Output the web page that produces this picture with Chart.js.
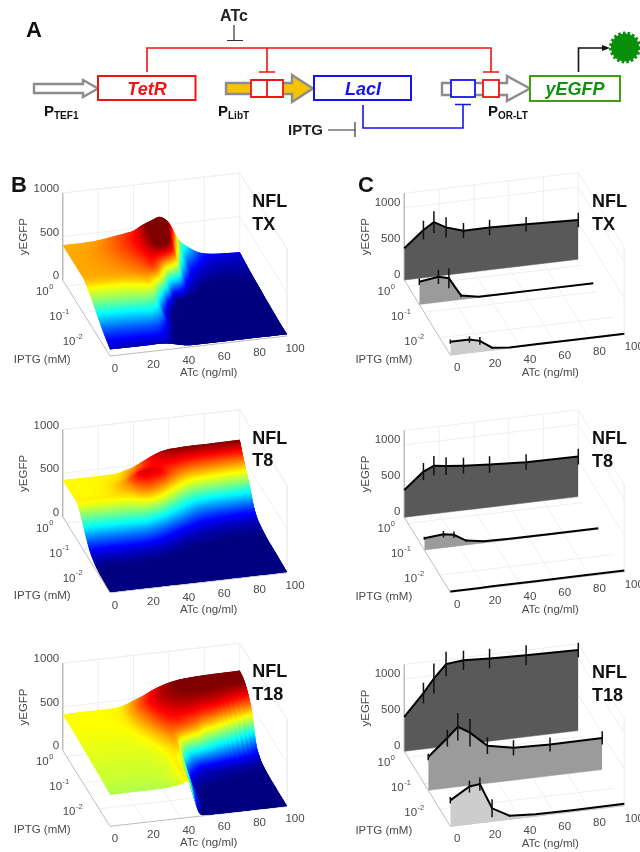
<!DOCTYPE html>
<html>
<head>
<meta charset="utf-8">
<title>NFL dose response</title>
<script src="https://cdn.jsdelivr.net/npm/chart.js@4"></script>
<style>
  html, body { margin: 0; background: #fff; }
  #page { position: relative; width: 640px; height: 852px; overflow: hidden; filter: blur(0.6px); }
  #page canvas { position: absolute; }
  #scheme { position: absolute; left: 0; top: 0; }
  #scheme text { font-family: "Liberation Sans", Arial, sans-serif; }
</style>
</head>
<body>
<div id="page">
  <canvas id="b1" width="320" height="235" style="left:0;top:165px"></canvas>
  <canvas id="c1" width="320" height="235" style="left:320px;top:165px"></canvas>
  <canvas id="b2" width="320" height="227" style="left:0;top:400px"></canvas>
  <canvas id="c2" width="320" height="227" style="left:320px;top:400px"></canvas>
  <canvas id="b3" width="320" height="225" style="left:0;top:627px"></canvas>
  <canvas id="c3" width="320" height="225" style="left:320px;top:627px"></canvas>

  <!-- panel A, the circuit drawing -->
  <svg id="scheme" width="640" height="852" fill="none">
    <text x="26" y="37" font-size="22" font-weight="bold" fill="#111">A</text>
    <text x="11" y="192" font-size="22" font-weight="bold" fill="#111">B</text>
    <text x="358" y="192" font-size="22" font-weight="bold" fill="#111">C</text>

    <text x="234" y="21" font-size="16" font-weight="bold" fill="#222" text-anchor="middle">ATc</text>
    <path d="M234 25V40M227 40.5H243" stroke="#333" stroke-width="1.2"/>
    <path d="M147 72V48H491V72M267 48V72M259 72H275M483 72H499" stroke="#f01414" stroke-width="1.6"/>

    <path d="M34 84H83V80L98 88.5L83 97V93H34Z" fill="#fff" stroke="#8c8c8c" stroke-width="2.4"/>
    <rect x="98" y="76" width="97.5" height="24" fill="#fff" stroke="#f01414" stroke-width="2"/>
    <text x="147" y="95" font-size="18" font-weight="bold" font-style="italic" fill="#f01414" text-anchor="middle">TetR</text>

    <path d="M226 83H292V75L313 88.5L292 102V94H226Z" fill="#f5c400" stroke="#8c8c8c" stroke-width="2.4"/>
    <path d="M251 80H283V97H251ZM267 80V97" fill="#fff" stroke="#f01414" stroke-width="1.8"/>
    <rect x="314" y="76" width="97" height="24" fill="#fff" stroke="#1414f0" stroke-width="2"/>
    <text x="363" y="95" font-size="18" font-weight="bold" font-style="italic" fill="#1414f0" text-anchor="middle">LacI</text>

    <path d="M442 83H507V76L530 88.5L507 101V95H442Z" fill="#fff" stroke="#8c8c8c" stroke-width="2.4"/>
    <rect x="451" y="80" width="24" height="17" fill="#fff" stroke="#1414f0" stroke-width="1.8"/>
    <rect x="483" y="80" width="16" height="17" fill="#fff" stroke="#f01414" stroke-width="1.8"/>
    <rect x="530" y="76" width="90" height="25" fill="#fff" stroke="#3f9e12" stroke-width="2"/>
    <text x="575" y="95" font-size="18" font-weight="bold" font-style="italic" fill="#129012" text-anchor="middle">yEGFP</text>

    <path d="M363 105V128H463V105M455 104.500H471" stroke="#1414f0" stroke-width="1.6"/>
    <text x="288" y="135" font-size="15" font-weight="bold" fill="#222">IPTG</text>
    <path d="M328 130H355M355 122V137" stroke="#333" stroke-width="1.2"/>

    <path d="M578.500 72V48H603" stroke="#111" stroke-width="1.6"/>
    <path d="M602 45L610 48L602 51Z" fill="#111"/>
    <circle cx="625" cy="47.500" r="14" fill="#0a8f0a"/>
    <circle cx="625" cy="47.500" r="14.500" stroke="#0a8f0a" stroke-width="3" stroke-dasharray="2.500 2.200"/>

    <g font-weight="bold" fill="#111">
      <text x="44" y="116" font-size="15">P<tspan font-size="10" dy="3">TEF1</tspan></text>
      <text x="218" y="116" font-size="15">P<tspan font-size="10" dy="3">LibT</tspan></text>
      <text x="488" y="116" font-size="15">P<tspan font-size="10" dy="3">OR-LT</tspan></text>
    </g>
  </svg>
</div>

<script>
// axis ticks
const atcTicks = [0, 20, 40, 60, 80, 100];
const yTicks = [0, 500, 1000];
const iptgTicks = ['0', '-1', '-2'];
const iptgTickDepth = [0.08, 0.43, 0.77];

// surface grids (panel B). rows run back to front
const surfAtc = [0, 10, 20, 30, 35, 40, 45, 50, 55, 60, 65, 70, 80, 100];

const txDepth = [0, 0.15, 0.3, 0.45, 0.55, 0.65, 0.75, 0.85, 1];
const txSurf = [
  [400, 400, 410, 440, 455, 475, 530, 570, 600, 520, 330, 230, 120, 90],
  [400, 405, 420, 450, 470, 500, 540, 575, 560, 380, 190, 120, 75, 70],
  [400, 405, 415, 440, 460, 490, 530, 530, 420, 170, 90, 60, 50, 55],
  [395, 395, 400, 415, 430, 440, 320, 120, 60, 40, 40, 40, 40, 45],
  [345, 345, 350, 365, 370, 270, 100, 45, 30, 30, 30, 30, 30, 35],
  [285, 290, 295, 300, 270, 120, 50, 30, 25, 25, 25, 25, 25, 30],
  [215, 215, 220, 225, 190, 80, 35, 25, 20, 20, 20, 20, 20, 25],
  [150, 150, 155, 150, 110, 50, 25, 20, 20, 20, 20, 20, 20, 20],
  [75, 75, 75, 75, 60, 35, 20, 20, 20, 20, 20, 20, 20, 20]
];

const t8Depth = [0, 0.1, 0.2, 0.3, 0.37, 0.43, 0.5, 0.6, 0.75, 1];
const t8Surf = [
  [420, 420, 420, 425, 450, 480, 530, 580, 620, 640, 645, 650, 650, 655],
  [420, 420, 425, 450, 490, 530, 560, 570, 570, 560, 540, 520, 500, 480],
  [420, 420, 430, 480, 540, 590, 590, 570, 510, 450, 400, 370, 350, 330],
  [420, 420, 425, 440, 480, 500, 480, 420, 350, 280, 230, 190, 170, 150],
  [355, 355, 360, 370, 390, 390, 350, 280, 220, 170, 130, 110, 95, 80],
  [280, 280, 285, 290, 300, 260, 220, 170, 130, 100, 80, 70, 60, 55],
  [180, 180, 180, 180, 170, 150, 120, 90, 70, 60, 50, 45, 40, 40],
  [80, 80, 80, 75, 70, 60, 50, 40, 35, 30, 30, 25, 25, 25],
  [25, 25, 25, 25, 25, 22, 22, 20, 20, 20, 20, 20, 20, 20],
  [8, 8, 8, 8, 8, 8, 8, 8, 8, 8, 8, 8, 8, 8]
];

const t18Depth = [0, 0.12, 0.25, 0.35, 0.43, 0.5, 0.6, 0.75, 0.9, 1];
const t18Surf = [
  [414, 414, 414, 418, 440, 480, 520, 570, 610, 640, 660, 670, 680, 686],
  [414, 414, 414, 425, 460, 510, 560, 600, 625, 640, 650, 655, 655, 640],
  [410, 410, 410, 420, 450, 490, 540, 580, 600, 610, 610, 600, 580, 460],
  [405, 405, 405, 410, 430, 465, 510, 550, 560, 550, 530, 490, 400, 150],
  [400, 400, 400, 405, 415, 440, 480, 510, 500, 460, 400, 300, 180, 60],
  [398, 398, 398, 398, 405, 425, 455, 470, 330, 180, 110, 85, 60, 30],
  [392, 392, 392, 394, 398, 410, 430, 420, 130, 60, 40, 35, 25, 15],
  [385, 385, 385, 386, 390, 398, 420, 300, 50, 20, 15, 12, 10, 8],
  [375, 375, 375, 378, 384, 398, 410, 150, 20, 8, 5, 5, 5, 5],
  [365, 365, 365, 368, 376, 388, 395, 50, 8, 5, 3, 3, 3, 3]
];

// measured doses (panel C)
const doses = [0, 11, 17, 24, 34, 49, 70, 100];

const txHigh = [438, 659, 751, 659, 585, 585, 571, 544];
const txHighErr = [0, 130, 150, 140, 105, 108, 100, 100];
const txMid = [313, 350, 313, 55, 10, 8, 8, 8];
const txMidErr = [45, 97, 138, 25, 0, 0, 0, 0];
const txLow = [184, 184, 147, 32, 8, 8, 8, 8];
const txLowErr = [30, 45, 55, 10, 0, 0, 0, 0];

const t8High = [378, 600, 664, 640, 617, 590, 562, 553];
const t8HighErr = [0, 118, 134, 122, 110, 115, 108, 108];
const t8Mid = [161, 184, 161, 60, 23, 15, 12, 12];
const t8MidErr = [20, 45, 45, 20, 0, 0, 0, 0];
const t8Low = [12, 12, 12, 14, 14, 14, 14, 14];
const t8LowErr = [0, 0, 0, 0, 0, 0, 0, 0];

const t18High = [475, 774, 958, 1138, 1161, 1143, 1129, 1115];
const t18HighErr = [0, 143, 207, 170, 134, 134, 138, 100];
const t18Mid = [461, 691, 829, 728, 520, 447, 433, 438];
const t18MidErr = [45, 115, 190, 190, 115, 106, 97, 92];
const t18Low = [359, 520, 535, 180, 50, 25, 20, 25];
const t18LowErr = [45, 83, 92, 124, 14, 0, 0, 0];

const FONT = '"Liberation Sans", Arial, sans-serif';
const GAP = { x: NaN, y: NaN };

// oblique view of the box, page pixels per unit
const viewB = { ox: 62.7, ax: 177, ay: -20, dx: 47.3, dy: 76, hz: 87, zMax: 1000, tickDx: -3.5, tickDy: -4, atcDx: 8 };
const viewC = { ox: 404.3, ax: 174, ay: -20.7, dx: 46, dy: 75, hz: 72.3, zMax: 1200, tickDx: -4, tickDy: -5, atcDx: 10 };

function project(v, oy, atc, depth, z) {
  return {
    x: v.ox + v.ax * atc / 100 + v.dx * depth,
    y: oy + v.ay * atc / 100 + v.dy * depth - v.hz * z / 1000
  };
}

function jet(t) {
  t = Math.min(1, Math.max(0, t));
  const c = x => Math.round(255 * Math.min(1, Math.max(0, 1.5 - Math.abs(4 * t - x))));
  return `rgb(${c(3)},${c(2)},${c(1)})`;
}

// box lines: back wall, right wall, floor
function boxDatasets(v, oy) {
  const P = (a, d, z) => project(v, oy, a, d, z);
  const faint = [];
  atcTicks.slice(1).forEach(a => faint.push(P(a, 0, 0), P(a, 0, v.zMax), GAP));
  atcTicks.slice(1, -1).forEach(a => faint.push(P(a, 0, 0), P(a, 1, 0), GAP));
  iptgTickDepth.forEach(d => faint.push(P(0, d, 0), P(100, d, 0), GAP));
  [500, 1000].forEach(z => faint.push(P(0, 0, z), P(100, 0, z), P(100, 1, z), GAP));
  faint.push(P(0, 0, v.zMax), P(100, 0, v.zMax), P(100, 1, v.zMax), P(100, 1, 0), GAP);
  const edge = [P(0, 0, v.zMax), P(0, 0, 0), P(0, 1, 0), P(100, 1, 0)];
  return [
    { data: faint, showLine: true, borderColor: '#efefef', borderWidth: 1, pointRadius: 0, order: 100 },
    { data: edge, showLine: true, borderColor: '#bcbcbc', borderWidth: 1, pointRadius: 0, order: 99 }
  ];
}

function spline(a, b, c, d, t) {
  return 0.5 * (2 * b + (c - a) * t + (2 * a - 5 * b + 4 * c - d) * t * t + (3 * b - a - 3 * c + d) * t * t * t);
}

// smooth shaded surface (like matlab's shading interp); the grid vertices come
// from the chart's own point elements, the fine lattice only does the shading
function surfacePlugin(atc, depth, rows, cMin, cMax) {
  return {
    id: 'surface',
    afterDatasetsDraw(chart) {
      const ds = chart.data.datasets.findIndex(d => d.label === 'surface');
      const pts = chart.getDatasetMeta(ds).data;
      const ctx = chart.ctx;
      const nc = atc.length, nr = depth.length;
      const subX = 8, subY = 16;
      const clampR = r => Math.min(nr - 1, Math.max(0, r));
      const clampC = c => Math.min(nc - 1, Math.max(0, c));
      const vx = (r, c) => pts[clampR(r) * nc + clampC(c)].x;
      const vy = (r, c) => pts[clampR(r) * nc + clampC(c)].y;
      const vz = (r, c) => rows[clampR(r)][clampC(c)];
      const sample = (f, r, c, v, u) => {
        const at = rr => spline(f(rr, c - 1), f(rr, c), f(rr, c + 1), f(rr, c + 2), u);
        return spline(at(r - 1), at(r), at(r + 1), at(r + 2), v);
      };
      const lat = [];
      for (let j = 0; j <= (nr - 1) * subY; j++) {
        const r = Math.min(nr - 2, Math.floor(j / subY)), v = j / subY - r;
        const line = [];
        for (let i = 0; i <= (nc - 1) * subX; i++) {
          const c = Math.min(nc - 2, Math.floor(i / subX)), u = i / subX - c;
          line.push({ x: sample(vx, r, c, v, u), y: sample(vy, r, c, v, u), z: sample(vz, r, c, v, u) });
        }
        lat.push(line);
      }
      // back to front, left to right. each quad reaches one step further so
      // the next one paints over the seam
      const lastJ = lat.length - 1, lastI = lat[0].length - 1;
      ctx.save();
      for (let j = 0; j < lastJ; j++) {
        for (let i = 0; i < lastI; i++) {
          const j2 = Math.min(lastJ, j + 2), i2 = Math.min(lastI, i + 2);
          const a = lat[j][i], b = lat[j][i2], c = lat[j2][i2], d = lat[j2][i];
          const z = (lat[j][i].z + lat[j][i + 1].z + lat[j + 1][i + 1].z + lat[j + 1][i].z) / 4;
          ctx.fillStyle = jet((z - cMin) / (cMax - cMin));
          ctx.beginPath();
          ctx.moveTo(a.x, a.y);
          ctx.lineTo(b.x, b.y);
          ctx.lineTo(c.x, c.y);
          ctx.lineTo(d.x, d.y);
          ctx.closePath();
          ctx.fill();
        }
      }
      ctx.restore();
    }
  };
}

// axis text and the NFL titles
function labelPlugin(v, oy, title) {
  return {
    id: 'labels',
    afterDraw(chart) {
      const ctx = chart.ctx;
      const X = chart.scales.x, Y = chart.scales.y;
      const text = (s, x, y, align, size, weight, color) => {
        ctx.font = `${weight || ''} ${size || 11.5}px ${FONT}`;
        ctx.textAlign = align || 'center';
        ctx.fillStyle = color || '#4a4a4a';
        ctx.fillText(s, X.getPixelForValue(x), Y.getPixelForValue(y));
      };
      ctx.save();
      ctx.textBaseline = 'middle';
      yTicks.forEach(t => text(String(t), v.ox + v.tickDx, oy - v.hz * t / 1000 + v.tickDy, 'right'));
      atcTicks.forEach((t, i) => {
        const p = project(v, oy, t, 1, 0);
        text(String(t), p.x + v.atcDx - (i === 0 ? 3 : 0), p.y + 13, 'center');
      });
      iptgTicks.forEach((t, i) => {
        const px = v.ox - 16 + 13.4 * i, py = oy + 11.7 + 25 * i;
        text('10', px + 2, py, 'right');
        text(t, px + 2.5, py - 5, 'left', 7.5);
      });
      text('IPTG (mM)', v.ox - 20.5, oy + 79.5);
      text('ATc (ng/ml)', v.ox + 146, oy + 93);
      ctx.save();
      ctx.translate(X.getPixelForValue(v.ox - 38.5), Y.getPixelForValue(oy - 43.3));
      ctx.rotate(-Math.PI / 2);
      ctx.font = `11.5px ${FONT}`;
      ctx.textAlign = 'center';
      ctx.fillStyle = '#4a4a4a';
      ctx.fillText('yEGFP', 0, 0);
      ctx.restore();
      ctx.textBaseline = 'alphabetic';
      title.forEach((s, i) => text(s, v.ox + (v === viewB ? 189.5 : 187.7), oy - 73 + 22.7 * i, 'left', 18, 'bold', '#111'));
      ctx.restore();
    }
  };
}

function makeChart(id, box, datasets, plugins) {
  return new Chart(document.getElementById(id), {
    type: 'scatter',
    data: { datasets },
    options: {
      responsive: false,
      animation: false,
      devicePixelRatio: 1,
      layout: { padding: 0 },
      plugins: { legend: { display: false }, tooltip: { enabled: false } },
      scales: {
        x: { type: 'linear', display: false, min: box.left, max: box.left + box.w },
        y: { type: 'linear', display: false, reverse: true, min: box.top, max: box.top + box.h }
      }
    },
    plugins
  });
}

function surfacePanel(id, box, oy, title, depth, rows, cMin, cMax) {
  const verts = [];
  depth.forEach((d, r) => surfAtc.forEach((a, c) => verts.push(project(viewB, oy, a, d, rows[r][c]))));
  const datasets = boxDatasets(viewB, oy);
  datasets.push({ label: 'surface', data: verts, pointRadius: 0, showLine: false, order: 50 });
  makeChart(id, box, datasets, [surfacePlugin(surfAtc, depth, rows, cMin, cMax), labelPlugin(viewB, oy, title)]);
}

const rowFills = ['#595959', '#9b9b9b', '#cdcdcd'];

function dosePanel(id, box, oy, title, rowDepth, rows) {
  const datasets = boxDatasets(viewC, oy);
  rows.forEach((row, r) => {
    const d = rowDepth[r];
    const line = doses.map((a, i) => project(viewC, oy, a, d, row.mean[i]));
    const base = doses.map(a => project(viewC, oy, a, d, 0));
    const bars = [];
    doses.forEach((a, i) => {
      if (row.err[i] > 0) {
        bars.push(project(viewC, oy, a, d, row.mean[i] - row.err[i]), project(viewC, oy, a, d, row.mean[i] + row.err[i]), GAP);
      }
    });
    const order = 30 - r * 5;
    datasets.push(
      { data: bars, showLine: true, borderColor: '#111', borderWidth: 1.5, pointRadius: 0, order: order - 2 },
      { data: line, showLine: true, borderColor: '#000', borderWidth: 2, pointRadius: 0, order: order - 1,
        fill: { target: '+1' }, backgroundColor: rowFills[r] },
      { data: base, showLine: true, borderColor: rowFills[r], borderWidth: 0.5, pointRadius: 0, order: order }
    );
  });
  makeChart(id, box, datasets, [labelPlugin(viewC, oy, title)]);
}

surfacePanel('b1', { left: 0, top: 165, w: 320, h: 235 }, 280, ['NFL', 'TX'], txDepth, txSurf, 50, 545);
surfacePanel('b2', { left: 0, top: 400, w: 320, h: 227 }, 516.7, ['NFL', 'T8'], t8Depth, t8Surf, 30, 650);
surfacePanel('b3', { left: 0, top: 627, w: 320, h: 225 }, 750.3, ['NFL', 'T18'], t18Depth, t18Surf, 20, 650);

dosePanel('c1', { left: 320, top: 165, w: 320, h: 235 }, 280, ['NFL', 'TX'], [0, 0.326, 1],
  [{ mean: txHigh, err: txHighErr }, { mean: txMid, err: txMidErr }, { mean: txLow, err: txLowErr }]);
dosePanel('c2', { left: 320, top: 400, w: 320, h: 227 }, 517.3, ['NFL', 'T8'], [0, 0.435, 1],
  [{ mean: t8High, err: t8HighErr }, { mean: t8Mid, err: t8MidErr }, { mean: t8Low, err: t8LowErr }]);
dosePanel('c3', { left: 320, top: 627, w: 320, h: 225 }, 751.3, ['NFL', 'T18'], [0, 0.52, 1],
  [{ mean: t18High, err: t18HighErr }, { mean: t18Mid, err: t18MidErr }, { mean: t18Low, err: t18LowErr }]);
</script>
</body>
</html>
